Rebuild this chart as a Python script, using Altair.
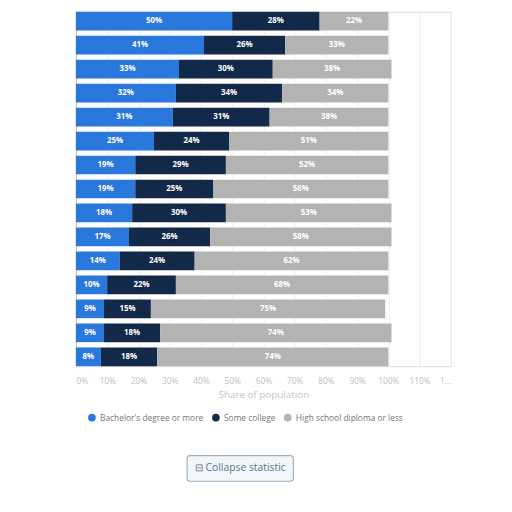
import altair as alt
import pandas as pd

groups = [f"Group {i}" for i in range(1, 16)]
bachelor = [50, 41, 33, 32, 31, 25, 19, 19, 18, 17, 14, 10, 9, 9, 8]
some_college = [28, 26, 30, 34, 31, 24, 29, 25, 30, 26, 24, 22, 15, 18, 18]
high_school = [22, 33, 38, 34, 38, 51, 52, 56, 53, 58, 62, 68, 75, 74, 74]
series = ["Bachelor's degree or more", "Some college", "High school diploma or less"]
colors = ["#2b78dc", "#13294a", "#b3b3b3"]
tick_values = [0, 10, 20, 30, 40, 50, 60, 70, 80, 90, 100, 110, 120]

rows = []
for g, a, b, c in zip(groups, bachelor, some_college, high_school):
    for k, (s, v) in enumerate(zip(series, [a, b, c])):
        rows.append({"group": g, "series": s, "value": v, "order": k})
df = pd.DataFrame(rows)

x_axis = alt.Axis(values=tick_values,
                  labelExpr="datum.value == 120 ? '1…' : datum.value + '%'",
                  labelOverlap=False,
                  title="Share of population", titleColor="#c4c4c4",
                  titleFontWeight="normal", titleFontSize=10,
                  labelColor="#c0c0c0", labelFontSize=8.5,
                  grid=True, gridColor="#eeeeee", domain=False,
                  ticks=False, labelPadding=11, titlePadding=4)
x_scale = alt.Scale(domain=[0, 120], nice=False)

base = alt.Chart(df).encode(
    y=alt.Y("group:N", sort=groups,
            scale=alt.Scale(paddingInner=0.22, paddingOuter=0),
            axis=alt.Axis(title=None, labels=False, ticks=False, domain=True,
                          domainColor="#bbbbbb")),
)

bars = base.mark_bar().encode(
    x=alt.X("value:Q", stack="zero", scale=x_scale, axis=x_axis),
    color=alt.Color("series:N", sort=series,
                    scale=alt.Scale(domain=series, range=colors),
                    legend=alt.Legend(title=None, orient="none", direction="horizontal",
                                      legendX=12, legendY=408, symbolType="circle",
                                      symbolSize=60, labelFontSize=8.5,
                                      labelColor="#777777", columnPadding=8,
                                      symbolStrokeWidth=0)),
    order=alt.Order("order:Q"),
)

labels = base.mark_text(color="white", fontSize=8, fontWeight="bold").encode(
    text=alt.Text("label:N"),
).transform_calculate(label="datum.value + '%'").transform_stack(
    stack="value", groupby=["group"], as_=["v0", "v1"],
    sort=[alt.SortField("order", order="ascending")]
).transform_calculate(mid="(datum.v0 + datum.v1) / 2").encode(
    x=alt.X("mid:Q", scale=x_scale, axis=x_axis)
)

btn = pd.DataFrame({"t": ["⊟  Collapse statistic"]})
button_rect = alt.Chart(btn).mark_rect(
    fill="#f3f6f8", stroke="#9fb2c4", strokeWidth=1.2, cornerRadius=3, clip=False
).encode(x=alt.value(113), x2=alt.value(221), y=alt.value(451), y2=alt.value(477))
button_text = alt.Chart(btn).mark_text(
    color="#5b7590", fontSize=10.5, clip=False
).encode(x=alt.value(167), y=alt.value(464), text="t:N")

chart = alt.layer(bars, labels, button_rect, button_text).properties(
    width=381, height=360,
    autosize=alt.AutoSizeParams(type="none"),
    padding={"left": 69, "top": 0, "right": 54, "bottom": 125},
).configure_view(stroke=None).configure(font="Open Sans")

chart.save("out.html", embed_options={"renderer": "svg", "actions": False})
